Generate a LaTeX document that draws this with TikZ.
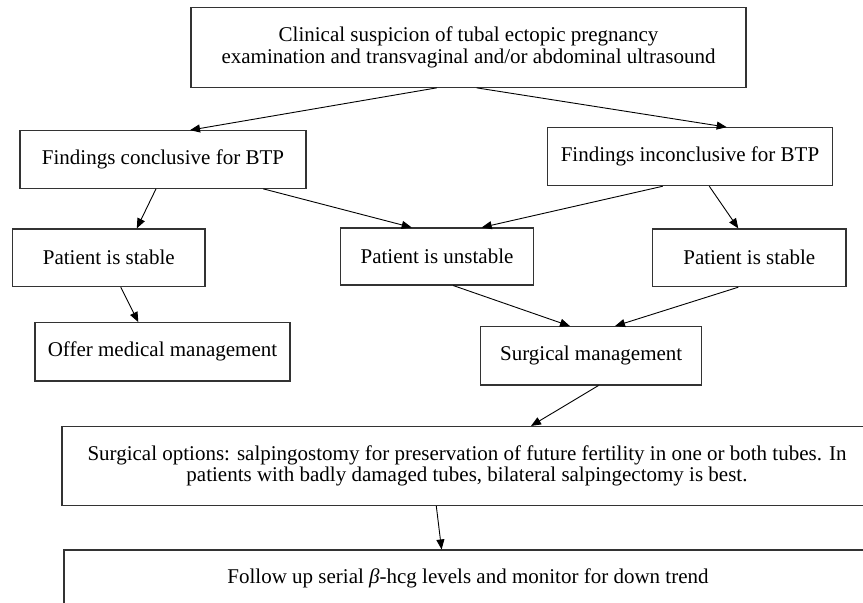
\documentclass[tikz,border=0pt]{standalone}
\usepackage{fontspec}
\setmainfont{Liberation Serif}
\usetikzlibrary{arrows.meta}
\begin{document}
\begin{tikzpicture}[x=1pt,y=-1pt,
  bx/.style={draw=black!80, line width=1.1pt, inner sep=0pt, align=center,
    font=\fontsize{21}{21.5}\selectfont},
  ar/.style={line width=0.9pt, -{Triangle[length=10pt,width=8pt]}}]
\path[use as bounding box] (0,0) rectangle (863,603);
\clip (0,0) rectangle (863,603);
\node[bx, minimum width=555pt, minimum height=80pt] (top) at (468.5,47.3)
  {Clinical suspicion of tubal ectopic pregnancy\\examination and transvaginal and/or abdominal ultrasound};
\node[bx, minimum width=286pt, minimum height=57.6pt] (conc) at (163,159.5) {Findings conclusive for BTP};
\node[bx, minimum width=285.4pt, minimum height=58pt] (inconc) at (690,156.7) {Findings inconclusive for BTP};
\node[bx, minimum width=192.3pt, minimum height=57.7pt] (stableL) at (108.8,257.8) {Patient is stable};
\node[bx, minimum width=192.6pt, minimum height=57pt] (unstable) at (437,256.5) {Patient is unstable};
\node[bx, minimum width=193.3pt, minimum height=57.7pt] (stableR) at (749.3,257.8) {Patient is stable};
\node[bx, minimum width=255pt, minimum height=58.3pt] (offer) at (162.5,351.8) {Offer medical management};
\node[bx, minimum width=221pt, minimum height=58.3pt] (surg) at (591.2,355.8) {Surgical management};
\node[bx, minimum width=810pt, minimum height=79pt] (opts) at (467,466)
  {Surgical options: salpingostomy for preservation of future fertility in one or both tubes. In\\patients with badly damaged tubes, bilateral salpingectomy is best.};
\node[bx, minimum width=808pt, minimum height=56pt] (follow) at (468,578)
  {Follow up serial \textit{β}-hcg levels and monitor for down trend};
\draw[ar] ([xshift=-31.8pt]top.south) -- ([xshift=27pt]conc.north);
\draw[ar] ([xshift=8.2pt]top.south) -- ([xshift=36.7pt]inconc.north);
\draw[ar] ([xshift=-7pt]conc.south) -- ([xshift=28pt]stableL.north);
\draw[ar] ([xshift=100.3pt]conc.south) -- ([xshift=-25.3pt]unstable.north);
\draw[ar] ([xshift=-27.3pt]inconc.south) -- ([xshift=44.7pt]unstable.north);
\draw[ar] ([xshift=19.3pt]inconc.south) -- ([xshift=-11pt]stableR.north);
\draw[ar] ([xshift=12pt]stableL.south) -- ([xshift=-24.2pt]offer.north);
\draw[ar] ([xshift=16.3pt]unstable.south) -- ([xshift=-21.2pt]surg.north);
\draw[ar] ([xshift=-11pt]stableR.south) -- ([xshift=23.8pt]surg.north);
\draw[ar] ([xshift=7.3pt]surg.south) -- ([xshift=64pt]opts.north);
\draw[ar] ([xshift=-30.7pt]opts.south) -- ([xshift=-26.4pt]follow.north);
\end{tikzpicture}
\end{document}
